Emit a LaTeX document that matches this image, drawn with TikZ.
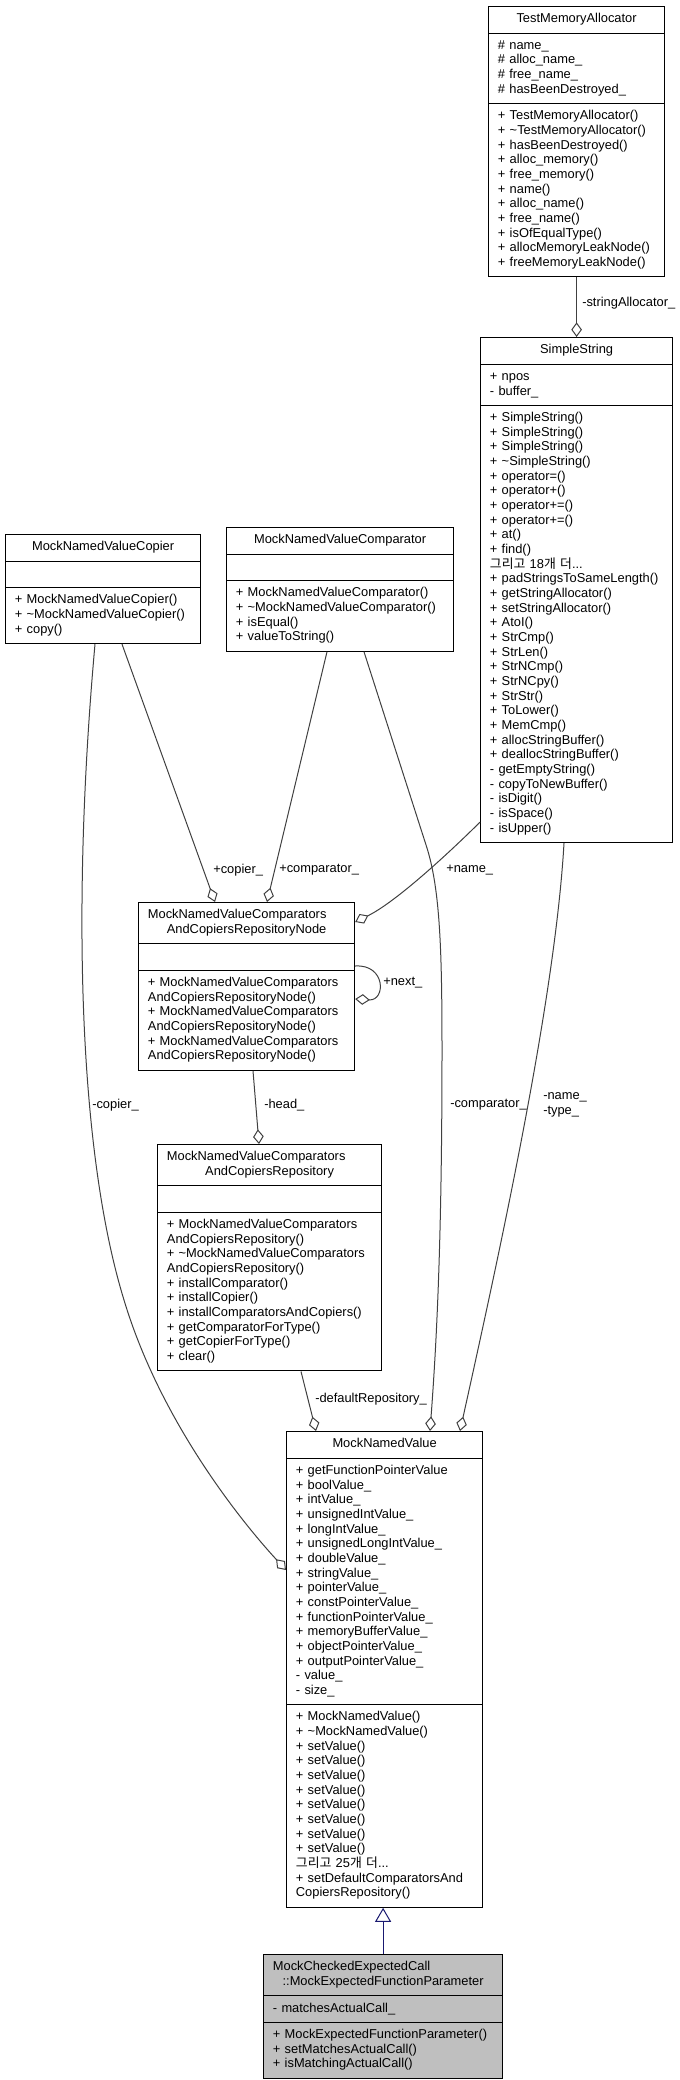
\documentclass[tikz,border=0pt]{standalone}
\usepackage{fontspec}
\setmainfont{Liberation Sans}
\newfontfamily\cjk{Noto Sans CJK KR}
\usepackage{tikz}
\usetikzlibrary{calc,shapes.multipart,arrows.meta}
\definecolor{edgegray}{HTML}{404040}
\definecolor{navyblue}{HTML}{191970}
\definecolor{derivedfill}{HTML}{BFBFBF}
\def\clsfont{\fontsize{9.65pt}{11pt}\selectfont}
\def\ctitle#1{\makebox[\linewidth]{#1}}
\def\kmore#1{{\cjk 그리고} #1{\cjk 개} {\cjk 더}...}
\tikzset{
	cls/.style={rectangle split, rectangle split parts=3, draw=black, line width=0.9pt, fill=white,
		text width=#1, inner xsep=7pt, inner ysep=4pt, anchor=north west, font=\clsfont,
		execute at begin node=\strut, execute at end node=\strut},
	lbl/.style={font=\clsfont, inner sep=0pt, anchor=west, align=left},
	agg/.style={draw=edgegray, line width=0.75pt, -{Diamond[open, length=11pt, width=8pt]}},
	inh/.style={draw=navyblue, line width=0.75pt, -{Triangle[open, length=10.5pt, width=12pt]}}
}

\begin{document}
\begin{tikzpicture}[x=0.75pt, y=-0.75pt]
			%%%%% START %%%%%
			\useasboundingbox (0,0) rectangle (680,2080);
			
			\node[cls=118pt] (tma) at (488,6) {\ctitle{TestMemoryAllocator}%
				\nodepart{two}\# name\_\\\# alloc\_name\_\\\# free\_name\_\\\# hasBeenDestroyed\_%
				\nodepart{three}+ TestMemoryAllocator()\\+ \textasciitilde TestMemoryAllocator()\\+ hasBeenDestroyed()\\+ alloc\_memory()\\+ free\_memory()\\+ name()\\+ alloc\_name()\\+ free\_name()\\+ isOfEqualType()\\+ allocMemoryLeakNode()\\+ freeMemoryLeakNode()};
			
			\node[cls=130pt] (simple) at (480,337) {\ctitle{SimpleString}%
				\nodepart{two}+ npos\\- buffer\_%
				\nodepart{three}+ SimpleString()\\+ SimpleString()\\+ SimpleString()\\+ \textasciitilde SimpleString()\\+ operator=()\\+ operator+()\\+ operator+=()\\+ operator+=()\\+ at()\\+ find()\\\kmore{18}\\+ padStringsToSameLength()\\+ getStringAllocator()\\+ setStringAllocator()\\+ AtoI()\\+ StrCmp()\\+ StrLen()\\+ StrNCmp()\\+ StrNCpy()\\+ StrStr()\\+ ToLower()\\+ MemCmp()\\+ allocStringBuffer()\\+ deallocStringBuffer()\\- getEmptyString()\\- copyToNewBuffer()\\- isDigit()\\- isSpace()\\- isUpper()};
			
			\node[cls=132.25pt] (copier) at (5,534) {\ctitle{MockNamedValueCopier}%
				\nodepart{two}%
				\nodepart{three}+ MockNamedValueCopier()\\+ \textasciitilde MockNamedValueCopier()\\+ copy()};
			
			\node[cls=156.25pt] (comparator) at (226,527) {\ctitle{MockNamedValueComparator}%
				\nodepart{two}%
				\nodepart{three}+ MockNamedValueComparator()\\+ \textasciitilde MockNamedValueComparator()\\+ isEqual()\\+ valueToString()};
			
			\node[cls=148pt] (reponode) at (138,902) {MockNamedValueComparators\\\ctitle{AndCopiersRepositoryNode}%
				\nodepart{two}%
				\nodepart{three}+ MockNamedValueComparators\\AndCopiersRepositoryNode()\\+ MockNamedValueComparators\\AndCopiersRepositoryNode()\\+ MockNamedValueComparators\\AndCopiersRepositoryNode()};
			
			\node[cls=154pt] (repo) at (157,1144) {MockNamedValueComparators\\\ctitle{AndCopiersRepository}%
				\nodepart{two}%
				\nodepart{three}+ MockNamedValueComparators\\AndCopiersRepository()\\+ \textasciitilde MockNamedValueComparators\\AndCopiersRepository()\\+ installComparator()\\+ installCopier()\\+ installComparatorsAndCopiers()\\+ getComparatorForType()\\+ getCopierForType()\\+ clear()};
			
			\node[cls=133pt] (mnv) at (286,1431) {\ctitle{MockNamedValue}%
				\nodepart{two}+ getFunctionPointerValue\\+ boolValue\_\\+ intValue\_\\+ unsignedIntValue\_\\+ longIntValue\_\\+ unsignedLongIntValue\_\\+ doubleValue\_\\+ stringValue\_\\+ pointerValue\_\\+ constPointerValue\_\\+ functionPointerValue\_\\+ memoryBufferValue\_\\+ objectPointerValue\_\\+ outputPointerValue\_\\- value\_\\- size\_%
				\nodepart{three}+ MockNamedValue()\\+ \textasciitilde MockNamedValue()\\+ setValue()\\+ setValue()\\+ setValue()\\+ setValue()\\+ setValue()\\+ setValue()\\+ setValue()\\+ setValue()\\\kmore{25}\\+ setDefaultComparatorsAnd\\CopiersRepository()};
			
			\node[cls=165.25pt, fill=derivedfill] (derived) at (263,1954) {MockCheckedExpectedCall\\\ctitle{::MockExpectedFunctionParameter}%
				\nodepart{two}- matchesActualCall\_%
				\nodepart{three}+ MockExpectedFunctionParameter()\\+ setMatchesActualCall()\\+ isMatchingActualCall()};
			
			\draw[agg] (tma.south) -- (simple.north);
			\draw[agg] ($(copier.south west)+(117,0)$) -- ($(reponode.north west)+(77,0)$);
			\draw[agg] ($(comparator.south west)+(101,0)$) -- ($(reponode.north west)+(129,0)$);
			\draw[agg] ($(simple.south west)+(0,-21)$) .. controls (462,840) and (400,900) .. ($(reponode.north east)+(0,20)$);
			\draw[agg] ($(reponode.north east)+(0,64)$) .. controls (386,964) and (386,1001) .. ($(reponode.north east)+(0,97)$);
			\draw[agg] ($(reponode.south west)+(115,0)$) -- ($(repo.north west)+(102,0)$);
			\draw[agg] ($(copier.south west)+(90,0)$) .. controls (72,900) and (78,1150) .. (124,1300) .. controls (160,1420) and (240,1520) .. ($(mnv.north west)+(0,139)$);
			\draw[agg] ($(comparator.south west)+(138,0)$) -- (427,848) .. controls (440,890) and (442,950) .. (442,1050) .. controls (442,1250) and (436,1350) .. ($(mnv.north west)+(144,0)$);
			\draw[agg] ($(simple.south west)+(84,0)$) .. controls (555,1000) and (500,1250) .. ($(mnv.north west)+(174,0)$);
			\draw[agg] ($(repo.south west)+(144,0)$) -- ($(mnv.north west)+(30,0)$);
			\draw[inh] (derived.north) -- (derived.north |- mnv.south);
			
			\node[lbl] (lalloc) at (582,303) {-stringAllocator\_};
			\node[lbl] (lcopier) at (213,870) {+copier\_};
			\node[lbl] (lcomp) at (279,870) {+comparator\_};
			\node[lbl] (lname) at (446,870) {+name\_};
			\node[lbl] (lnext) at (383,983) {+next\_};
			\node[lbl] (lhead) at (264,1105) {-head\_};
			\node[lbl] (lcopier2) at (92,1105) {-copier\_};
			\node[lbl] (lcomp2) at (450,1105) {-comparator\_};
			\node[lbl] (lnametype) at (543,1105) {-name\_\\-type\_};
			\node[lbl] (ldefrepo) at (315,1399) {-defaultRepository\_};
			
			%%%%% END %%%%%
\end{tikzpicture}
\end{document}
